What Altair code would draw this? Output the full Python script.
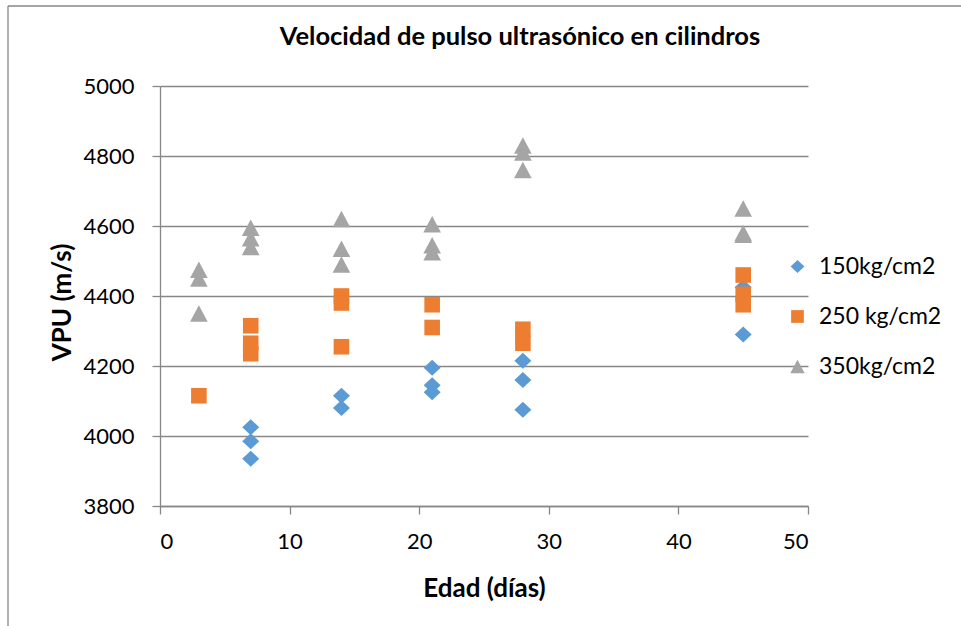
import altair as alt
import pandas as pd

# Series labels, colours and marker shapes
series = ["150kg/cm2", "250 kg/cm2", "350kg/cm2"]
colors = ["#5B9BD5", "#ED7D31", "#A5A5A5"]
shapes = [
    "M0,-0.92L0.98,0L0,0.92L-0.98,0Z",
    "M-0.9,-0.9L0.9,-0.9L0.9,0.9L-0.9,0.9Z",
    "M0,-0.95L1.02,0.95L-1.02,0.95Z",
]

# Measurements: age (days) and ultrasonic pulse velocity (m/s)
edad_150 = [7, 7, 7, 14, 14, 21, 21, 21, 28, 28, 28, 45, 45]
vpu_150 = [4025, 3985, 3935, 4115, 4080, 4195, 4145, 4125, 4215, 4160, 4075, 4425, 4290]

edad_250 = [3, 7, 7, 7, 14, 14, 14, 21, 21, 28, 28, 45, 45, 45]
vpu_250 = [4115, 4315, 4265, 4235, 4400, 4380, 4255, 4375, 4310, 4305, 4265, 4460, 4405, 4375]

edad_350 = [3, 3, 3, 7, 7, 7, 14, 14, 14, 21, 21, 21, 28, 28, 28, 45, 45, 45]
vpu_350 = [4475, 4450, 4350, 4595, 4565, 4540, 4620, 4535, 4490, 4605, 4545, 4525,
           4830, 4810, 4760, 4650, 4580, 4575]

x_ticks = [0, 10, 20, 30, 40, 50]
y_ticks = [3800, 4000, 4200, 4400, 4600, 4800, 5000]

TITLE = "Velocidad de pulso ultrasónico en cilindros"

frames = []
for name, ed, vp in [(series[0], edad_150, vpu_150),
                     (series[1], edad_250, vpu_250),
                     (series[2], edad_350, vpu_350)]:
    frames.append(pd.DataFrame({"serie": name, "edad": ed, "vpu": vp}))
df = pd.concat(frames, ignore_index=True)

FONT = "Lato"
GRID = "#878787"

legend = alt.Legend(
    title=None, orient="none", legendX=626, legendY=169,
    labelFont=FONT, labelFontSize=23, labelColor="#000000",
    symbolSize=200, rowPadding=26, labelOffset=10,
)

points = alt.Chart(df).mark_point(filled=True, opacity=1, size=300, strokeWidth=0).encode(
    x=alt.X(
        "edad:Q",
        scale=alt.Scale(domain=[0, 50], nice=False, zero=False),
        axis=alt.Axis(
            values=x_ticks, format="d", title="Edad (días)", grid=False,
            labelPadding=17, titleX=324, titleY=90, titleBaseline="alphabetic",
        ),
    ),
    y=alt.Y(
        "vpu:Q",
        scale=alt.Scale(domain=[3800, 5000], nice=False, zero=False),
        axis=alt.Axis(
            values=y_ticks, format="d", title="VPU (m/s)", grid=True, gridColor=GRID,
            labelPadding=18, titleAngle=270, titleX=-90, titleY=216,
            titleAlign="center", titleBaseline="alphabetic",
        ),
    ),
    color=alt.Color("serie:N", scale=alt.Scale(domain=series, range=colors), legend=legend),
    shape=alt.Shape("serie:N", scale=alt.Scale(domain=series, range=shapes), legend=legend),
    order=alt.Order("serie:N"),
)

# Outer frame of the chart area
frame_df = pd.DataFrame({"k": [0]})
frame_left = alt.Chart(frame_df).mark_rule(color=GRID, strokeWidth=1.3).encode(
    x=alt.value(-152), y=alt.value(-80), y2=alt.value(560)
)
frame_top = alt.Chart(frame_df).mark_rule(color=GRID, strokeWidth=1.3).encode(
    x=alt.value(-152), x2=alt.value(820), y=alt.value(-80)
)

chart = alt.layer(frame_left, frame_top, points).properties(
    width=648,
    height=420,
    background="#ffffff",
    title=alt.TitleParams(
        TITLE, font=FONT, fontSize=25.5, fontWeight="bold", color="#000000",
        anchor="middle", baseline="alphabetic", dx=36, offset=0, dy=65,
    ),
    autosize=alt.AutoSizeParams(type="none"),
    padding={"left": 160, "top": 86, "right": 153, "bottom": 120},
).configure_view(
    strokeWidth=0
).configure_axis(
    labelFont=FONT, labelFontSize=22, labelColor="#000000",
    titleFont=FONT, titleFontSize=26, titleFontWeight="bold", titleColor="#000000",
    domainColor=GRID, domainWidth=1.3, tickColor=GRID, tickWidth=1.3, tickSize=8,
    gridWidth=1.3,
)

chart.save("out.html", embed_options={"renderer": "svg", "actions": False})
